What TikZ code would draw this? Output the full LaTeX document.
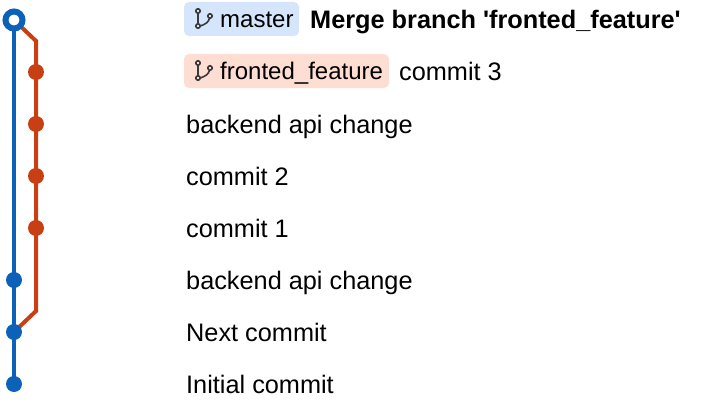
\documentclass[tikz,border=0pt]{standalone}
\usepackage{fontspec}
\setmainfont{Liberation Sans}
\definecolor{gblue}{HTML}{0B62B8}
\definecolor{gred}{HTML}{C93F14}
\definecolor{pblue}{HTML}{D5E6FC}
\definecolor{pred}{HTML}{FEDDD3}
\definecolor{icon}{HTML}{3A3A3A}
\tikzset{
  lbl/.style={anchor=base west,inner sep=0pt,font=\fontsize{25.3}{25.3}\selectfont,text=black},
  tag/.style={anchor=base west,inner sep=0pt,font=\fontsize{24}{24}\selectfont,text=black},
  bdot/.style={circle,fill=gblue,minimum size=16pt,inner sep=0pt},
  rdot/.style={circle,fill=gred,minimum size=16pt,inner sep=0pt},
  head/.style={circle,draw=gblue,line width=6pt,fill=white,minimum size=17pt,inner sep=0pt},
  bline/.style={draw=gblue,line width=4pt},
  rline/.style={draw=gred,line width=4pt,line join=miter},
  pill/.style={rounded corners=5pt,draw=none},
  bicon/.style={draw=icon,line width=1.6pt,line cap=round}
}
\newcommand{\branchicon}[2]{%
  \draw[bicon] (#1-1,#2-7) circle (2.2pt);
  \draw[bicon] (#1-1,#2+8) circle (2.2pt);
  \draw[bicon] (#1+11,#2-2) circle (2.2pt);
  \draw[bicon] (#1-1,#2-4.8) -- (#1-1,#2+5.8);
  \draw[bicon] (#1+10.5,#2+0.2) .. controls (#1+10,#2+4) and (#1+6,#2+6.5) .. (#1+1.2,#2+8);
}
\begin{document}
\begin{tikzpicture}[x=1pt,y=-1pt]
\useasboundingbox (0,0) rectangle (712,412);
\fill[pill,pblue] (184,2) rectangle (299,36);
\fill[pill,pred] (184,54) rectangle (389,88);
\coordinate (kink1) at (36,41);
\coordinate (kink2) at (36,311);
\coordinate (p0) at (14,20);
\coordinate (p6) at (14,332);
\coordinate (p7) at (14,384);
\path[rline] (p6) -- (kink2) -- (kink1) -- (p0);
\path[bline] (p0) -- (p7);
\node[head] (c0) at (p0) {};
\node[rdot] (c1) at (36,72) {};
\node[rdot] (c2) at (36,124) {};
\node[rdot] (c3) at (36,176) {};
\node[rdot] (c4) at (36,228) {};
\node[bdot] (c5) at (14,280) {};
\node[bdot] (c6) at (p6) {};
\node[bdot] (c7) at (p7) {};
\branchicon{199}{18}
\branchicon{199}{70}
\node[tag] (t0) at (220,28) {master};
\node[lbl,font=\fontsize{25.3}{25.3}\selectfont\bfseries] (m0) at (310,29) {Merge branch \textquotesingle fronted\_feature\textquotesingle};
\node[tag] (t1) at (220,80) {fronted\_feature};
\node[lbl] (m1) at (399,81) {commit 3};
\node[lbl] (m2) at (186,133) {backend api change};
\node[lbl] (m3) at (186,185) {commit 2};
\node[lbl] (m4) at (186,237) {commit 1};
\node[lbl] (m5) at (186,289) {backend api change};
\node[lbl] (m6) at (186,341) {Next commit};
\node[lbl] (m7) at (186,393) {Initial commit};
\end{tikzpicture}
\end{document}
